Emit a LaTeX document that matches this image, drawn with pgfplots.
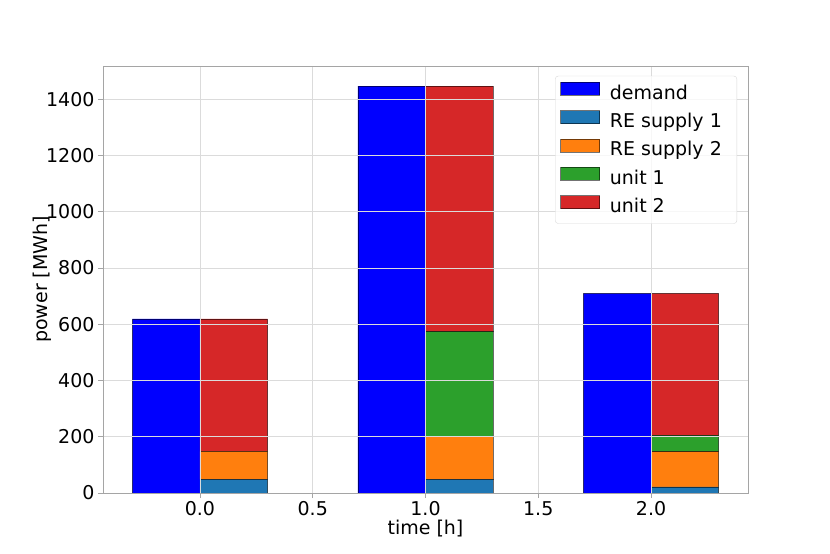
\documentclass[border=0pt]{standalone}
\usepackage{pgfplots}
\pgfplotsset{compat=1.18}
\usepackage{fontspec}
\setmainfont{DejaVu Sans}
\definecolor{cdem}{RGB}{0,0,255}
\definecolor{tblue}{RGB}{31,119,180}
\definecolor{torange}{RGB}{255,127,14}
\definecolor{tgreen}{RGB}{44,160,44}
\definecolor{tred}{RGB}{214,39,40}
\definecolor{spine}{RGB}{165,165,165}
\pgfplotsset{
  common/.style={
    at={(103pt,61pt)}, anchor=south west,
    width=645pt, height=427pt, scale only axis,
    xmin=-0.43, xmax=2.43, ymin=0, ymax=1518,
    bar width=0.3,
  },
  barsty/.style={draw=black, draw opacity=0.55, line width=0.6pt},
}
\begin{document}
\begin{tikzpicture}
\path[use as bounding box] (0,0) rectangle (830pt,554pt);
\begin{axis}[common, hide axis, ybar]
\addplot[barsty, fill=cdem, bar shift=-0.15] coordinates {(0,619) (1,1446) (2,710)};
\end{axis}
\begin{axis}[common, ybar stacked, axis on top,
  font=\fontsize{19}{22}\selectfont,
  grid=major, grid style={draw=gray!28, line width=0.6pt},
  axis line style={draw=spine, line width=0.8pt},
  tick align=outside, tick pos=left,
  major tick length=5pt, tick style={draw=spine, line width=0.8pt},
  xtick={0,0.5,1,1.5,2}, xticklabels={0.0,0.5,1.0,1.5,2.0},
  ytick={0,200,400,600,800,1000,1200,1400},
  yticklabels={0,200,400,600,800,1000,1200,1400},
  xlabel={time [h]}, ylabel={power [MWh]},
  xlabel style={yshift=3pt},
  ylabel style={yshift=-12pt},
  legend cell align=left,
  legend style={at={(0.983,0.977)}, anchor=north east,
    draw=gray!30, rounded corners=3pt, fill=white, fill opacity=0.8, text opacity=1,
    font=\fontsize{19}{22}\selectfont, row sep=6pt, inner ysep=6pt, inner xsep=5pt,
    nodes={inner xsep=10pt, inner ysep=1pt, text height=14pt, text depth=4pt}},
  legend image code/.code={\draw[#1, sharp corners, fill opacity=1, draw opacity=0.55] (0pt,-1pt) rectangle (39pt,12pt);},
]
\addlegendimage{barsty, fill=cdem}
\addlegendentry{demand}
\addplot[barsty, fill=tblue, bar shift=0.15] coordinates {(0,48) (1,48) (2,22)};
\addlegendentry{RE supply 1}
\addplot[barsty, fill=torange, bar shift=0.15] coordinates {(0,100) (1,152) (2,125)};
\addlegendentry{RE supply 2}
\addplot[barsty, fill=tgreen, bar shift=0.15] coordinates {(0,0) (1,374) (2,58)};
\addlegendentry{unit 1}
\addplot[barsty, fill=tred, bar shift=0.15] coordinates {(0,471) (1,872) (2,505)};
\addlegendentry{unit 2}
\end{axis}
\end{tikzpicture}
\end{document}
